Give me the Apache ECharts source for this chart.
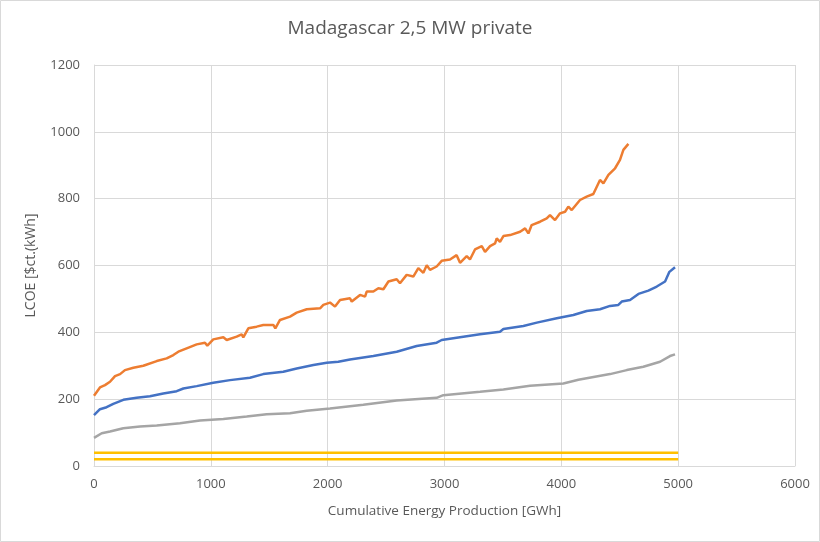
<!DOCTYPE html>
<html>
<head>
<meta charset="utf-8">
<script src="https://cdn.jsdelivr.net/npm/echarts@6/dist/echarts.min.js"></script>
<style>
html,body{margin:0;padding:0;background:#fff;}
#c{width:820px;height:542px;}
</style>
</head>
<body>
<div id="c"></div>
<script>
const title = "Madagascar 2,5 MW private";
const xAxisName = "Cumulative Energy Production [GWh]";
const yAxisName = "LCOE [$ct.(kWh]";

const orangeX = [0,17,51,94,137,180,223,265,337,422,537,622,679,722,793,879,950,970,1021,1107,1136,1221,1264,1278,1321,1392,1449,1535,1552,1592,1678,1735,1821,1935,1963,2020,2063,2106,2191,2206,2277,2320,2334,2391,2434,2477,2520,2591,2619,2676,2733,2776,2819,2848,2876,2933,2976,3047,3104,3133,3190,3218,3261,3319,3347,3390,3433,3447,3475,3504,3561,3647,3690,3718,3746,3818,3875,3903,3946,3989,4032,4060,4089,4160,4217,4274,4331,4360,4403,4460,4502,4531,4574];
const orangeY = [210,214,235,242,252,269,275,287,294,300,314,322,332,342,352,364,369,360,379,385,377,387,394,385,412,417,422,422,412,437,447,459,469,472,482,489,477,497,502,492,512,507,522,522,532,529,552,559,547,572,567,592,578,601,587,597,614,618,631,608,628,618,648,658,641,658,666,681,671,688,691,701,711,696,721,731,741,751,736,756,761,776,766,796,806,814,856,846,871,891,916,946,964];

const blueX = [0,17,51,108,165,251,365,479,593,708,765,879,1021,1164,1335,1449,1620,1735,1878,1992,2091,2191,2391,2591,2762,2933,2976,3161,3304,3475,3504,3675,3790,3961,4103,4217,4331,4417,4488,4517,4588,4660,4745,4817,4888,4925,4973];
const blueY = [152,155,170,176,186,198,204,209,217,224,232,239,249,257,264,275,282,292,302,309,312,319,329,342,359,369,377,387,394,402,410,419,429,442,452,464,469,479,482,492,497,515,525,537,552,581,595];

const grayX = [0,17,66,137,251,394,537,736,907,1107,1307,1478,1678,1821,2020,2305,2591,2933,2990,3304,3504,3732,4017,4146,4417,4560,4702,4845,4930,4973];
const grayY = [84,88,98,103,113,118,121,128,136,141,148,155,158,165,172,183,196,204,212,222,229,240,247,258,275,287,297,312,329,334];

const yellowX = [0,5000];
const yellow1Y = [40,40];
const yellow2Y = [20,20];

const xTicks = {min:0,max:6000,interval:1000};
const yTicks = {min:0,max:1200,interval:200};

function pairs(xs,ys){return xs.map((x,i)=>[x,ys[i]]);}

const chart = echarts.init(document.getElementById('c'));
const font = "'Open Sans', 'Liberation Sans', sans-serif";
const txt = '#595959';
const gridCol = '#d9d9d9';
function line(data,color,w){
  return {type:'line',data:data,showSymbol:false,symbol:'none',smooth:false,
    lineStyle:{color:color,width:w},itemStyle:{color:color},animation:false};
}
const plain = v => String(v);
chart.setOption({
  animation:false,
  textStyle:{fontFamily:font},
  title:{text:title,left:'center',top:14,textStyle:{fontFamily:font,fontSize:19,fontWeight:'normal',color:txt}},
  grid:{left:94,right:25,top:65,bottom:76},
  graphic:[{type:'rect',shape:{x:0.5,y:0.5,width:819,height:541},style:{fill:'none',stroke:gridCol,lineWidth:1},silent:true}],
  xAxis:{type:'value',min:xTicks.min,max:xTicks.max,interval:xTicks.interval,
    name:xAxisName,nameLocation:'middle',nameGap:38,
    nameTextStyle:{fontFamily:font,fontSize:13.5,color:txt},
    axisLine:{show:true,lineStyle:{color:gridCol,width:1}},axisTick:{show:false},
    axisLabel:{fontFamily:font,fontSize:13,color:txt,margin:12,formatter:plain},
    splitLine:{show:true,lineStyle:{color:gridCol,width:1}}},
  yAxis:{type:'value',min:yTicks.min,max:yTicks.max,interval:yTicks.interval,
    name:yAxisName,nameLocation:'middle',nameGap:56,nameMoveOverlap:false,
    nameTextStyle:{fontFamily:font,fontSize:14,color:txt},
    axisLine:{show:true,lineStyle:{color:gridCol,width:1}},axisTick:{show:false},
    axisLabel:{fontFamily:font,fontSize:13,color:txt,margin:14,formatter:plain},
    splitLine:{show:true,lineStyle:{color:gridCol,width:1}}},
  series:[
    line(pairs(yellowX,yellow1Y),'#FFC000',2.5),
    line(pairs(yellowX,yellow2Y),'#FFC000',2.5),
    line(pairs(grayX,grayY),'#A5A5A5',2.5),
    line(pairs(blueX,blueY),'#4472C4',2.5),
    line(pairs(orangeX,orangeY),'#ED7D31',2.5)
  ]
});
</script>
</body>
</html>
